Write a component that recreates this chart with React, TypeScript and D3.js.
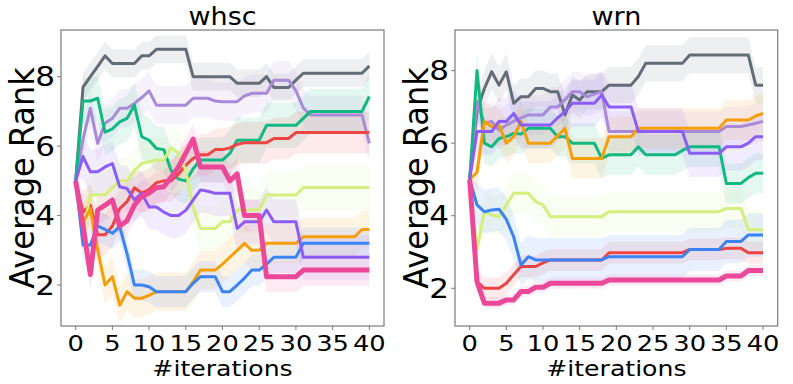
import React, { useEffect, useRef } from 'react';
import * as d3 from 'd3';

// x positions (iteration index)
const iterations = d3.range(0, 41);
const xTicks = [0, 5, 10, 15, 20, 25, 30, 35, 40];
const yTicks = [2, 4, 6, 8];
const panelTitles = ['whsc', 'wrn'];

const seriesNames = ['gray', 'lavender', 'green', 'red', 'lime', 'orange', 'blue', 'violet', 'pink'];
const seriesColors = ['#646c78', '#a98ad8', '#10b981', '#ef4444', '#d4ef7c', '#f59e0b', '#3b82f6', '#8b5cf6', '#ec4899'];

// whsc
const whscGray = [5, 7.7, 8.0, 8.3, 8.6, 8.38, 8.38, 8.38, 8.38, 8.6, 8.6, 8.79, 8.79, 8.79, 8.79, 8.79, 8.0, 8.0, 8.0, 8.0, 8.0, 8.0, 7.81, 7.81, 7.81, 7.81, 8.0, 7.69, 7.69, 7.69, 7.9, 8.1, 8.1, 8.1, 8.1, 8.1, 8.1, 8.1, 8.1, 8.1, 8.31];
const whscLavender = [5, 6.2, 7.09, 6.08, 6.66, 6.8, 7.09, 7.09, 7.23, 7.4, 7.59, 7.18, 7.18, 7.18, 7.18, 7.18, 7.38, 7.38, 7.38, 7.3, 7.28, 7.28, 7.28, 7.45, 7.52, 7.52, 7.52, 7.9, 7.9, 7.9, 7.6, 7.1, 6.9, 6.9, 6.9, 6.9, 6.9, 6.9, 6.9, 6.9, 6.08];
const whscGreen = [5, 7.3, 7.3, 7.38, 6.4, 6.5, 6.7, 6.8, 7.18, 6.27, 6.17, 5.93, 5.9, 5.3, 5.05, 5.0, 5.35, 5.6, 5.6, 5.6, 5.6, 5.79, 6.17, 6.17, 6.17, 6.17, 6.6, 6.6, 6.6, 6.6, 6.6, 6.8, 7.0, 7.0, 7.0, 7.0, 7.0, 7.0, 7.0, 7.0, 7.43];
const whscRed = [5, 4.1, 4.3, 3.45, 3.45, 3.7, 4.2, 4.4, 4.8, 4.65, 4.75, 4.95, 5.0, 5.0, 5.2, 5.45, 5.65, 5.75, 5.75, 5.9, 5.9, 5.95, 6.05, 6.1, 6.1, 6.1, 6.1, 6.22, 6.22, 6.22, 6.39, 6.39, 6.39, 6.39, 6.39, 6.39, 6.39, 6.39, 6.39, 6.39, 6.39];
const whscLime = [5, 3.5, 4.6, 4.6, 4.6, 4.8, 5.0, 5.0, 5.3, 5.5, 5.55, 5.6, 5.6, 5.95, 5.8, 5.3, 4.25, 3.63, 3.63, 3.63, 3.82, 3.82, 4.16, 4.16, 4.16, 4.16, 4.59, 4.59, 4.59, 4.59, 4.59, 4.81, 4.81, 4.81, 4.81, 4.81, 4.81, 4.81, 4.81, 4.81, 4.81];
const whscOrange = [5, 3.8, 4.2, 3.0, 2.0, 2.24, 1.42, 1.81, 1.62, 1.62, 1.7, 1.81, 1.81, 1.81, 1.81, 1.81, 2.1, 2.43, 2.43, 2.43, 2.6, 2.8, 3.0, 3.2, 3.0, 3.0, 3.2, 3.2, 3.2, 3.2, 3.2, 3.39, 3.39, 3.39, 3.39, 3.39, 3.39, 3.39, 3.39, 3.6, 3.6];
const whscBlue = [5, 3.15, 3.15, 3.7, 3.6, 3.49, 3.68, 2.9, 2.0, 2.0, 1.95, 1.81, 1.81, 1.81, 1.81, 1.81, 2.05, 2.24, 2.24, 2.24, 1.81, 1.81, 2.0, 2.2, 2.43, 2.43, 2.6, 2.8, 2.8, 2.8, 2.8, 3.2, 3.2, 3.2, 3.2, 3.2, 3.2, 3.2, 3.2, 3.2, 3.2];
const whscViolet = [5, 5.7, 5.26, 5.26, 5.4, 5.5, 4.83, 4.78, 4.45, 4.64, 4.25, 4.25, 4.1, 4.0, 4.0, 4.15, 4.45, 4.74, 4.7, 4.64, 4.64, 4.64, 3.63, 3.82, 3.82, 3.82, 4.16, 3.82, 3.82, 3.82, 3.82, 2.8, 2.8, 2.8, 2.8, 2.8, 2.8, 2.8, 2.8, 2.8, 2.8];
const whscPink = [5, 3.7, 2.3, 4.16, 4.3, 4.45, 3.7, 3.85, 4.3, 4.55, 4.65, 4.8, 4.83, 5.1, 5.4, 5.8, 6.2, 5.4, 5.4, 5.4, 5.4, 5.0, 5.2, 4.0, 4.0, 4.0, 2.24, 2.24, 2.24, 2.24, 2.24, 2.43, 2.43, 2.43, 2.43, 2.43, 2.43, 2.43, 2.43, 2.43, 2.43];
// half width of the shaded band, per series
const whscSpread = [0.4, 0.55, 0.65, 0.6, 0.65, 0.55, 0.45, 0.65, 0.45];

// wrn
const wrnGray = [5, 6.9, 7.5, 7.97, 7.6, 7.97, 7.1, 7.28, 7.28, 7.51, 7.51, 7.42, 7.42, 6.78, 7.33, 7.19, 7.42, 7.42, 7.42, 7.6, 7.6, 7.6, 7.6, 7.84, 8.2, 8.2, 8.2, 8.2, 8.2, 8.2, 8.43, 8.43, 8.43, 8.43, 8.43, 8.43, 8.43, 8.43, 8.43, 7.6, 7.6];
const wrnLavender = [5, 7.15, 6.55, 6.6, 6.36, 6.5, 6.6, 6.7, 6.78, 6.78, 6.78, 7.0, 7.0, 7.2, 7.42, 7.42, 7.28, 7.35, 7.42, 6.32, 6.32, 6.32, 6.32, 6.32, 6.32, 6.32, 6.32, 6.32, 6.32, 6.32, 6.32, 6.32, 6.32, 6.32, 6.32, 6.46, 6.46, 6.46, 6.5, 6.55, 6.6];
const wrnGreen = [5, 8.0, 6.0, 5.9, 6.13, 6.18, 6.27, 6.25, 6.41, 6.41, 6.41, 6.41, 6.18, 6.18, 6.0, 6.0, 6.0, 6.0, 5.58, 5.68, 5.68, 5.68, 5.68, 5.9, 5.68, 5.68, 5.68, 5.68, 5.68, 5.8, 5.9, 5.9, 5.9, 5.9, 5.9, 4.89, 4.89, 4.89, 5.05, 5.17, 5.17];
const wrnRed = [5, 2.18, 2.0, 2.0, 2.0, 2.14, 2.37, 2.6, 2.6, 2.6, 2.7, 2.78, 2.78, 2.78, 2.78, 2.78, 2.78, 2.78, 2.78, 2.98, 2.98, 2.98, 2.98, 2.98, 2.98, 2.98, 2.98, 2.98, 2.98, 2.98, 3.07, 3.07, 3.07, 3.07, 3.07, 3.1, 3.1, 3.1, 2.98, 2.98, 2.98];
const wrnLime = [5, 3.06, 4.11, 4.02, 3.97, 4.3, 4.62, 4.62, 4.62, 4.39, 4.3, 3.97, 3.97, 3.97, 3.97, 3.97, 3.97, 3.97, 3.97, 4.11, 4.11, 4.11, 4.11, 4.11, 4.11, 4.11, 4.11, 4.11, 4.11, 4.11, 4.11, 4.11, 4.11, 4.11, 4.11, 4.2, 4.2, 4.2, 3.61, 3.61, 3.61];
const wrnOrange = [5, 5.2, 6.6, 6.46, 6.5, 6.0, 6.18, 6.6, 6.0, 6.0, 6.0, 6.0, 6.2, 6.41, 5.58, 5.58, 5.58, 5.58, 5.58, 6.18, 6.18, 6.18, 6.18, 6.41, 6.41, 6.41, 6.41, 6.41, 6.41, 6.41, 6.41, 6.41, 6.41, 6.41, 6.41, 6.64, 6.64, 6.64, 6.64, 6.75, 6.82];
const wrnBlue = [5, 4.3, 4.11, 4.16, 4.18, 3.9, 3.42, 2.64, 2.87, 2.78, 2.78, 2.78, 2.78, 2.78, 2.78, 2.78, 2.78, 2.78, 2.78, 2.87, 2.87, 2.87, 2.87, 2.87, 2.87, 2.87, 2.87, 2.87, 2.87, 2.87, 3.07, 3.07, 3.07, 3.07, 3.07, 3.29, 3.29, 3.29, 3.47, 3.47, 3.47];
const wrnViolet = [5, 6.32, 6.32, 6.32, 6.6, 6.6, 6.82, 6.5, 6.5, 6.5, 6.5, 6.5, 6.7, 6.87, 7.1, 7.1, 7.1, 7.1, 7.33, 7.0, 7.0, 7.0, 7.0, 6.32, 6.32, 6.32, 6.32, 6.32, 6.32, 6.32, 5.72, 5.72, 5.72, 5.72, 5.72, 5.9, 5.9, 5.9, 6.0, 6.18, 6.18];
const wrnPink = [5, 2.18, 1.59, 1.59, 1.59, 1.68, 1.68, 1.91, 1.91, 2.03, 2.03, 2.14, 2.14, 2.14, 2.14, 2.14, 2.14, 2.14, 2.14, 2.23, 2.23, 2.23, 2.23, 2.23, 2.23, 2.23, 2.23, 2.23, 2.23, 2.23, 2.23, 2.23, 2.23, 2.23, 2.23, 2.34, 2.34, 2.34, 2.49, 2.49, 2.49];
const wrnSpread = [0.5, 0.55, 0.55, 0.3, 0.55, 0.55, 0.6, 0.65, 0.15];

const panels = [
  {
    title: panelTitles[0],
    series: [whscGray, whscLavender, whscGreen, whscRed, whscLime, whscOrange, whscBlue, whscViolet, whscPink],
    spread: whscSpread,
    left: 61,
    right: 384,
    yDomain: [0.82, 9.345],
  },
  {
    title: panelTitles[1],
    series: [wrnGray, wrnLavender, wrnGreen, wrnRed, wrnLime, wrnOrange, wrnBlue, wrnViolet, wrnPink],
    spread: wrnSpread,
    left: 455,
    right: 777.7,
    yDomain: [0.96, 9.12],
  },
];

const width = 793;
const height = 384;
const top = 30;
const bottom = 326;
const font = 'DejaVu Sans, sans-serif';
const spineColor = '#7a7a7a';

export default function App() {
  const ref = useRef<SVGSVGElement>(null);

  useEffect(() => {
    const svg = d3.select(ref.current);
    svg.selectAll('*').remove();

    panels.forEach((panel) => {
      const x = d3.scaleLinear().domain([-2, 42]).range([panel.left, panel.right]);
      const y = d3.scaleLinear().domain(panel.yDomain).range([bottom, top]);
      const g = svg.append('g');

      const clipId = `clip-${panel.title}`;
      g.append('clipPath')
        .attr('id', clipId)
        .append('rect')
        .attr('x', panel.left)
        .attr('y', top)
        .attr('width', panel.right - panel.left)
        .attr('height', bottom - top);

      const plot = g.append('g').attr('clip-path', `url(#${clipId})`);

      // shaded bands first, then the mean lines on top
      panel.series.forEach((values, s) => {
        const spread = panel.spread[s];
        const band = d3
          .area<number>()
          .x((d, i) => x(iterations[i]))
          .y0((d, i) => y(d - (i === 0 ? 0 : spread)))
          .y1((d, i) => y(d + (i === 0 ? 0 : spread)));
        plot
          .append('path')
          .attr('d', band(values))
          .attr('fill', seriesColors[s])
          .attr('fill-opacity', 0.11);
      });

      panel.series.forEach((values, s) => {
        const line = d3
          .line<number>()
          .x((d, i) => x(iterations[i]))
          .y((d) => y(d));
        plot
          .append('path')
          .attr('d', line(values))
          .attr('fill', 'none')
          .attr('stroke', seriesColors[s])
          .attr('stroke-width', seriesNames[s] === 'pink' ? 5 : 3)
          .attr('stroke-linejoin', 'round')
          .attr('stroke-linecap', 'butt');
      });

      // frame
      g.append('rect')
        .attr('x', panel.left)
        .attr('y', top)
        .attr('width', panel.right - panel.left)
        .attr('height', bottom - top)
        .attr('fill', 'none')
        .attr('stroke', spineColor)
        .attr('stroke-width', 1.2);

      // x ticks
      xTicks.forEach((t) => {
        g.append('line')
          .attr('x1', x(t))
          .attr('x2', x(t))
          .attr('y1', bottom)
          .attr('y2', bottom + 4)
          .attr('stroke', spineColor);
        g.append('text')
          .attr('transform', `translate(${x(t)},351) scale(1.17,1)`)
          .attr('text-anchor', 'middle')
          .attr('font-family', font)
          .attr('font-size', 22)
          .text(t);
      });

      // y ticks
      yTicks.forEach((t) => {
        g.append('line')
          .attr('x1', panel.left - 4)
          .attr('x2', panel.left)
          .attr('y1', y(t))
          .attr('y2', y(t))
          .attr('stroke', spineColor);
        g.append('text')
          .attr('transform', `translate(${panel.left - 6},${y(t)}) scale(1.15,1)`)
          .attr('text-anchor', 'end')
          .attr('dy', '0.36em')
          .attr('font-family', font)
          .attr('font-size', 27)
          .text(t);
      });

      const cx = (panel.left + panel.right) / 2;
      g.append('text')
        .attr('transform', `translate(${cx},25) scale(1.08,1)`)
        .attr('text-anchor', 'middle')
        .attr('font-family', font)
        .attr('font-size', 25)
        .text(panel.title);

      g.append('text')
        .attr('transform', `translate(${cx},376) scale(1.17,1)`)
        .attr('text-anchor', 'middle')
        .attr('font-family', font)
        .attr('font-size', 21.5)
        .text('#iterations');

      g.append('text')
        .attr('transform', `translate(${panel.left - 27},${(top + bottom) / 2}) scale(1.04,1) rotate(-90)`)
        .attr('text-anchor', 'middle')
        .attr('font-family', font)
        .attr('font-size', 32)
        .text('Average Rank');
    });
  }, []);

  return (
    <svg
      ref={ref}
      width={width}
      height={height}
      style={{ position: 'absolute', left: 0, top: 0, background: '#fff' }}
    />
  );
}
